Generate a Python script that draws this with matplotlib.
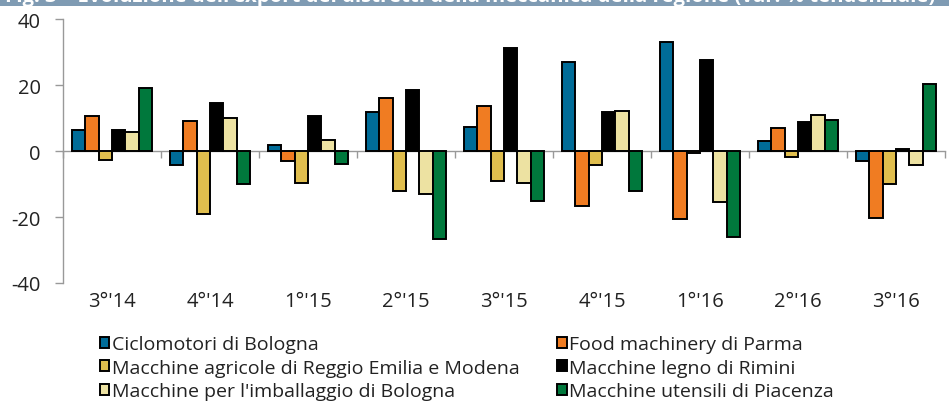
import matplotlib
matplotlib.use("Agg")
import matplotlib.pyplot as plt
import numpy as np
from matplotlib.patches import Rectangle

categories = ["3°'14", "4°'14", "1°'15", "2°'15", "3°'15", "4°'15", "1°'16", "2°'16", "3°'16"]
series_names = [
    "Ciclomotori di Bologna",
    "Food machinery di Parma",
    "Macchine agricole di Reggio Emilia e Modena",
    "Macchine legno di Rimini",
    "Macchine per l'imballaggio di Bologna",
    "Macchine utensili di Piacenza",
]
ciclomotori = [6.3, -4.3, 1.7, 11.7, 7.3, 26.9, 33.1, 3.0, -3.1]
food = [10.5, 9.0, -3.0, 16.0, 13.6, -16.7, -20.5, 6.9, -20.2]
agricole = [-2.8, -19.0, -9.6, -12.2, -9.1, -4.1, -0.6, -1.8, -10.1]
legno = [6.5, 14.5, 10.7, 18.6, 31.3, 11.7, 27.7, 8.7, 0.5]
imballaggio = [5.7, 10.0, 3.3, -13.1, -9.6, 12.1, -15.6, 10.9, -4.3]
utensili = [19.2, -10.1, -4.0, -26.8, -15.2, -12.0, -26.0, 9.5, 20.3]
series = [ciclomotori, food, agricole, legno, imballaggio, utensili]
colors = ["#006C98", "#F07C22", "#E0BE4E", "#000000", "#EDE2A2", "#00783C"]
yticks = [-40, -20, 0, 20, 40]
title = "Fig. 3 \u2013 Evoluzione dell'export dei distretti della meccanica della regione (var. % tendenziale)"

plt.rcParams['font.family'] = ['Open Sans', 'DejaVu Sans']

fig = plt.figure(figsize=(9.49, 4.06), dpi=100)
ax = fig.add_axes([0.0664, 0.3005, 0.9294, 0.6502])

n = len(series)
x = np.arange(len(categories))
w = 0.136
handles = []
for i, (vals, col, name) in enumerate(zip(series, colors, series_names)):
    b = ax.bar(x + (i - (n - 1) / 2) * w, vals, width=w, color=col,
               edgecolor="black", linewidth=1.4, label=name, zorder=3)
    handles.append(b)

ax.set_xlim(-0.5, len(categories) - 0.5)
ax.set_ylim(-40, 40)
ax.set_yticks(yticks)
ax.set_yticklabels([str(t) for t in yticks])
ax.tick_params(axis='y', length=6, width=1, color="#999999", labelsize=14.5,
               labelcolor="#222222", pad=10)
ax.set_xticks(x)
ax.set_xticklabels(categories)
ax.tick_params(axis='x', length=0, labelsize=14.5, labelcolor="#222222", pad=6)
for s in ["top", "right", "bottom"]:
    ax.spines[s].set_visible(False)
ax.spines["left"].set_color("#999999")
ax.spines["left"].set_linewidth(1)

sec = ax.secondary_xaxis(0.5)
sec.xaxis.set_ticks_position('bottom')
sec.set_xticks(np.arange(len(categories) + 1) - 0.5)
sec.set_xticklabels([])
sec.tick_params(axis='x', length=5, width=1, color="#999999", direction='out',
                labelbottom=False, labeltop=False)
for s in sec.spines.values():
    s.set_color("#999999")
    s.set_linewidth(1)
sec.set_zorder(1)

order = [0, 2, 4, 1, 3, 5]
leg = fig.legend([handles[i] for i in order], [series_names[i] for i in order],
                 ncol=2, loc="upper left", bbox_to_anchor=(0.105, 0.172),
                 frameon=False, fontsize=14, handlelength=0.5, handleheight=0.5,
                 handletextpad=0.12, columnspacing=1.95, labelspacing=0.28,
                 borderaxespad=0, borderpad=0)
for t in leg.get_texts():
    t.set_color("#222222")

fig.patches.append(Rectangle((0, 1 - 7 / 406), 1, 7 / 406, transform=fig.transFigure,
                             facecolor="#7F9BB3", edgecolor="none", zorder=0))
ttl = fig.text(5 / 949, 1 + 3 / 406, title, color="white", fontsize=14, fontweight="bold",
               ha="left", va="center")
fig.canvas.draw()
wpx = ttl.get_window_extent(fig.canvas.get_renderer()).width
ttl.set_fontsize(14 * 935 / wpx)

fig.savefig("out.png", dpi=100)
